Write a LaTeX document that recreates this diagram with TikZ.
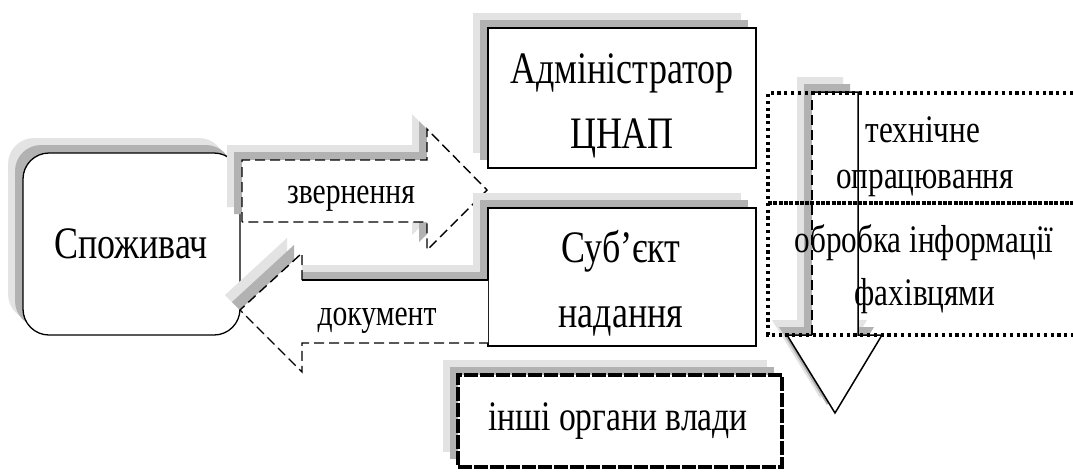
\documentclass[tikz,border=0pt]{standalone}
\usepackage{fontspec}
\setmainfont{Liberation Serif}[FakeStretch=0.8]
\usetikzlibrary{shadows}
\begin{document}
\begin{tikzpicture}[x=1pt,y=-1pt,
  sh/.style={drop shadow={shadow xshift=-15pt,shadow yshift=15pt,fill=gray!22,opacity=1},
             drop shadow={shadow xshift=-8pt,shadow yshift=8pt,fill=gray!60,opacity=1}},
  box/.style={draw=black,line width=1.3pt,fill=white,rectangle,inner sep=0pt},
  txt/.style={font=\fontsize{45}{50}\selectfont,anchor=base,inner sep=0pt},
  arrtxt/.style={txt,font=\fontsize{37}{40}\selectfont},
  sidetxt/.style={txt,font=\fontsize{39}{42}\selectfont},
  othtxt/.style={txt,font=\fontsize{42}{46}\selectfont},
  dsh/.style={line width=1.4pt,dash pattern=on 10pt off 5pt},
  dotl/.style={line width=3.4pt,dash pattern=on 3.2pt off 3.6pt},
  thickdash/.style={line width=3.6pt,dash pattern=on 4pt off 1.3pt},
  bigdash/.style={line width=4.2pt,dash pattern=on 14pt off 2pt}
]
\useasboundingbox (0,0) rectangle (1073,472);

% consumer
\node[box,sh,rounded corners=26pt,minimum width=217pt,minimum height=182pt] (cons) at (131.5,244) {};
\node[txt] (consT) at (131,258) {Споживач};

% right arrow (application)
\fill[white,sh] (242,160) -- (427,160) -- (427,129) -- (487,190) -- (427,250) -- (427,222) -- (242,222) -- cycle;
\draw[dsh] (242,222) -- (242,160) -- (427,160) -- (427,129) -- (487,190) -- (427,250) -- (427,222) -- (242,222);
\node[arrtxt] (appT) at (351,203) {звернення};

% admin box
\node[box,sh,minimum width=268pt,minimum height=140pt] (adm) at (622,98) {};
\node[txt] (admT1) at (622,83) {Адміністратор};
\node[txt] (admT2) at (622,148) {ЦНАП};

% subject box
\node[box,sh,minimum width=268pt,minimum height=138pt] (subj) at (622,277) {};
\node[txt] (subjT1) at (621,262) {Суб’єкт};
\node[txt] (subjT2) at (621,327) {надання};

% left arrow (document)
\fill[white,sh] (488,280) -- (302,280) -- (302,253) -- (240,310) -- (302,372) -- (302,343) -- (488,343) -- cycle;
\draw[line width=1.8pt] (488,280) -- (302,280);
\draw[dsh] (302,280) -- (302,253) -- (240,310) -- (302,372) -- (302,343) -- (488,343);
\node[arrtxt] (docT) at (377,325) {документ};

% other authorities
\fill[white,sh] (458,375) rectangle (782,467);
\node[draw,bigdash,rectangle,inner sep=0pt,minimum width=324pt,minimum height=92pt] (oth) at (620,421) {};
\node[othtxt] (othT) at (618,430) {інші органи влади};

% down arrow
\fill[white,sh] (812,92) -- (858,92) -- (858,335) -- (882,335) -- (835,413) -- (787,335) -- (812,335) -- cycle;
\draw[line width=1.5pt] (812,92) -- (858,92) -- (858,335) -- (882,335) -- (835,413) -- (787,335) -- (812,335);
\draw[dsh] (812,335) -- (812,92);

% dotted frame
\coordinate (fTL) at (768,93);
\coordinate (fTR) at (1073,93);
\coordinate (fBL) at (768,335);
\coordinate (fBR) at (1073,335);
\coordinate (fML) at (768,203);
\coordinate (fMR) at (1073,203);
\draw[dotl] (fTR) -- (fTL) -- (fBL) -- (fBR);
\draw[thickdash] (fML) -- (fMR);

\node[sidetxt] (t1) at (923,142) {технічне};
\node[sidetxt] (t2) at (925,188) {опрацювання};
\node[sidetxt] (t3) at (924,252) {обробка інформації};
\node[sidetxt] (t4) at (925,305) {фахівцями};
\end{tikzpicture}
\end{document}
